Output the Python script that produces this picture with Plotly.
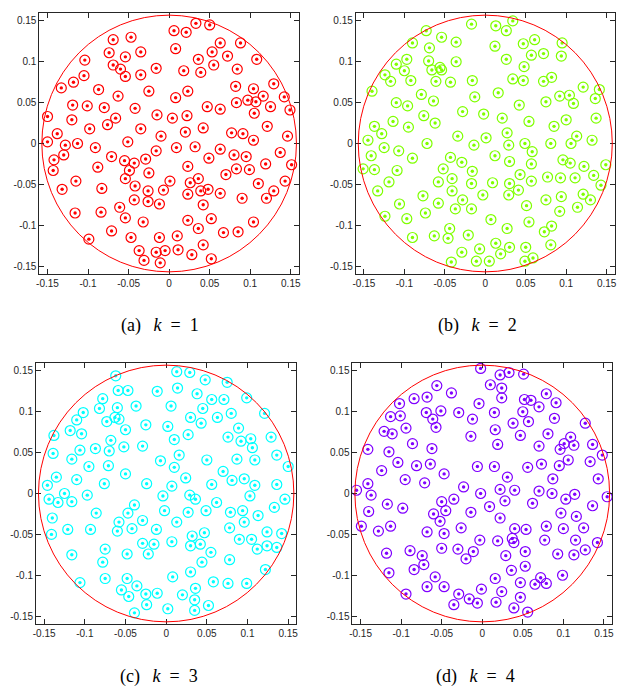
import plotly.graph_objects as go

# Radius of the red boundary disc (same for every panel)
R = 0.157

# Axis ticks
tick_vals = [-0.15, -0.1, -0.05, 0, 0.05, 0.1, 0.15]
tick_text = ["-0.15", "-0.1", "-0.05", "0", "0.05", "0.1", "0.15"]

# k = 1
k1_x = [0.033, 0.050, 0.006, 0.021, 0.063, 0.088, -0.069, -0.047, 0.008, -0.074,
        -0.035, 0.053, -0.054, 0.072, -0.104, 0.036, 0.108, -0.069, 0.055, -0.060,
        -0.016, 0.018, 0.084, 0.039, -0.054, -0.035, -0.105, -0.118, -0.133, 0.082,
        0.129, -0.087, -0.025, 0.023, 0.104, -0.063, 0.008, 0.116, 0.142, 0.097,
        0.107, 0.083, -0.119, -0.101, -0.080, 0.047, 0.125, -0.042, 0.063, 0.149,
        -0.150, 0.105, -0.015, 0.022, 0.004, -0.066, -0.120, -0.076, 0.121, -0.098,
        -0.035, 0.042, -0.138, 0.020, 0.077, 0.091, -0.010, 0.146, 0.104, -0.051,
        -0.150,
        -0.128, -0.113, -0.091, -0.016, 0.009, 0.032, 0.063, -0.130, -0.142, -0.071,
        -0.055, -0.043, -0.029, 0.080, 0.095, 0.049, 0.137, 0.119, 0.151, -0.143,
        -0.088, -0.049, -0.025, 0.023, 0.083, 0.099, 0.070, -0.054, 0.001, 0.036,
        -0.115, 0.026, 0.110, 0.143, -0.042, 0.048, -0.132, -0.083, -0.026, -0.007,
        0.039, 0.129, 0.023, 0.063, 0.120, 0.090, -0.043, -0.026, -0.012, 0.042,
        -0.061, -0.116, -0.084, -0.054, 0.052, -0.032, 0.023, 0.104, 0.036, -0.071,
        0.067, 0.085, -0.047, -0.012, 0.010, -0.099, 0.042, -0.037, -0.016, -0.005,
        0.011, 0.028, -0.031, 0.052, -0.011]
k1_y = [0.147, 0.145, 0.138, 0.136, 0.123, 0.123, 0.127, 0.130, 0.116, 0.111,
        0.112, 0.112, 0.106, 0.107, 0.102, 0.103, 0.103, 0.096, 0.096, 0.091,
        0.092, 0.089, 0.091, 0.087, 0.082, 0.084, 0.083, 0.075, 0.068, 0.070,
        0.073, 0.066, 0.064, 0.064, 0.067, 0.058, 0.056, 0.058, 0.057, 0.053,
        0.051, 0.050, 0.047, 0.046, 0.044, 0.045, 0.045, 0.043, 0.042, 0.041,
        0.033, 0.037, 0.035, 0.034, 0.031, 0.031, 0.029, 0.023, 0.021, 0.018,
        0.018, 0.019, 0.012, 0.014, 0.013, 0.012, 0.009, 0.009, 0.004, 0.002,
        0.002,
        -0.002, 0.000, -0.005, -0.009, -0.005, -0.004, -0.007, -0.014, -0.020, -0.016,
        -0.021, -0.024, -0.019, -0.014, -0.016, -0.018, -0.011, -0.025, -0.026, -0.033,
        -0.029, -0.033, -0.036, -0.028, -0.031, -0.032, -0.038, -0.043, -0.046, -0.043,
        -0.046, -0.048, -0.049, -0.046, -0.052, -0.056, -0.056, -0.055, -0.058, -0.057,
        -0.058, -0.058, -0.062, -0.061, -0.067, -0.067, -0.069, -0.071, -0.074, -0.075,
        -0.078, -0.085, -0.084, -0.091, -0.092, -0.096, -0.094, -0.096, -0.104, -0.107,
        -0.109, -0.108, -0.115, -0.115, -0.113, -0.117, -0.124, -0.131, -0.133, -0.131,
        -0.130, -0.136, -0.143, -0.141, -0.146]

# k = 2
k2_x = [-0.017, 0.013, 0.034, 0.026, -0.073, -0.090, -0.054, -0.036, 0.012, 0.047,
        0.061, 0.095, -0.069, 0.057, 0.072, 0.094, 0.026, -0.097, -0.070, -0.110,
        -0.036, -0.100, -0.066, -0.056, -0.054, 0.048, -0.124, -0.117, -0.092, -0.061,
        -0.043, -0.016, 0.034, 0.047, 0.072, 0.082, -0.140, 0.121, 0.141, -0.079,
        0.016, -0.013, 0.092, 0.104, 0.136, -0.110, -0.064, -0.096, 0.075, 0.109,
        0.042, -0.028, -0.002, -0.076, 0.021, 0.137, -0.114, -0.062, 0.054, 0.100,
        -0.137, -0.095, 0.085, -0.128, 0.027, 0.113, -0.034, 0.001, -0.145, 0.132,
        -0.125, -0.072, -0.014, 0.029, 0.049, 0.081, 0.106, -0.107, 0.058, -0.141,
        -0.090, -0.043, 0.012, -0.029, 0.030, 0.057, 0.096, 0.105, 0.122, 0.149,
        -0.151, -0.137, -0.109, -0.052, -0.016, 0.043, -0.041, 0.077, 0.093, 0.111,
        0.134, -0.119, -0.058, -0.017, 0.009, 0.030, 0.057, 0.143, -0.133, -0.041,
        0.041, -0.077, -0.003, 0.029, 0.121, 0.094, -0.028, 0.075, 0.130, -0.106,
        -0.058, 0.051, -0.037, -0.017, 0.114, -0.074, 0.092, -0.124, -0.097, 0.007,
        0.054, 0.082, -0.044, 0.027, 0.073, -0.063, -0.021, -0.046, -0.090, 0.013,
        0.081, -0.007, 0.030, 0.050, -0.029, 0.019, 0.059, -0.042, -0.011, 0.005,
        0.049]
k2_y = [0.146, 0.144, 0.150, 0.138, 0.138, 0.123, 0.130, 0.124, 0.119, 0.122,
        0.127, 0.123, 0.117, 0.108, 0.110, 0.107, 0.103, 0.103, 0.101, 0.097,
        0.100, 0.089, 0.090, 0.093, 0.090, 0.094, 0.084, 0.076, 0.077, 0.076,
        0.075, 0.077, 0.079, 0.077, 0.076, 0.081, 0.064, 0.069, 0.066, 0.060,
        0.062, 0.057, 0.058, 0.059, 0.055, 0.050, 0.052, 0.046, 0.051, 0.049,
        0.047, 0.039, 0.036, 0.034, 0.031, 0.031, 0.027, 0.025, 0.027, 0.029,
        0.021, 0.020, 0.021, 0.012, 0.013, 0.009, 0.009, 0.007, 0.004, 0.004,
        -0.005, 0.000, -0.002, -0.002, 0.000, 0.000, 0.000, -0.009, -0.010, -0.015,
        -0.018, -0.017, -0.015, -0.023, -0.022, -0.025, -0.020, -0.024, -0.028, -0.026,
        -0.031, -0.032, -0.033, -0.031, -0.034, -0.038, -0.043, -0.041, -0.042, -0.042,
        -0.039, -0.047, -0.047, -0.049, -0.048, -0.049, -0.046, -0.051, -0.058, -0.058,
        -0.057, -0.064, -0.063, -0.063, -0.062, -0.065, -0.069, -0.069, -0.069, -0.074,
        -0.073, -0.076, -0.080, -0.080, -0.078, -0.085, -0.083, -0.089, -0.092, -0.093,
        -0.096, -0.101, -0.104, -0.104, -0.108, -0.113, -0.112, -0.116, -0.115, -0.122,
        -0.124, -0.129, -0.127, -0.127, -0.133, -0.135, -0.140, -0.145, -0.144, -0.144,
        -0.144]

# k = 3
k3_x = [-0.062, 0.013, 0.029, 0.048, 0.075, -0.059, -0.047, -0.011, 0.014, 0.038,
        0.056, 0.071, 0.099, -0.078, -0.082, -0.060, -0.037, 0.006, 0.045, -0.102,
        0.080, 0.121, -0.110, -0.063, -0.058, -0.073, 0.030, 0.063, 0.043, -0.025,
        0.002, -0.118, -0.050, 0.089, -0.104, 0.027, -0.138, -0.068, 0.010, 0.076,
        0.092, 0.104, 0.129, 0.106, -0.087, -0.052, -0.029, -0.106, -0.070, -0.139,
        0.136, -0.116, -0.007, 0.016, 0.050, 0.087, 0.109, -0.095, -0.071, 0.010,
        0.150, -0.050, 0.070, -0.135, 0.024, -0.110, 0.081, 0.096, -0.076, -0.024,
        0.056, -0.146, 0.007, 0.109, 0.136,
        -0.144, -0.125, -0.133, -0.116, -0.097, -0.004, 0.029, 0.036, 0.062, 0.103,
        0.146, 0.133, -0.039, -0.086, -0.047, -0.002, 0.027, 0.049, 0.079, 0.094,
        0.113, -0.140, -0.029, -0.058, 0.013, 0.096, -0.093, -0.121, -0.060, -0.042,
        -0.012, 0.078, -0.141, 0.047, 0.032, 0.124, 0.142, 0.090, 0.105, -0.029,
        -0.015, 0.007, 0.030, 0.042, 0.124, 0.136, 0.112, -0.075, 0.055, -0.116,
        -0.048, -0.022, -0.078, 0.044, 0.078, 0.030, 0.122, 0.008, -0.075, -0.048,
        0.058, 0.076, 0.099, -0.106, -0.036, 0.036, -0.055, -0.046, -0.025, -0.011,
        0.020, 0.035, -0.024, 0.052, 0.002, 0.035, -0.039]
k3_y = [0.144, 0.149, 0.148, 0.139, 0.136, 0.126, 0.126, 0.125, 0.129, 0.122,
        0.115, 0.115, 0.117, 0.116, 0.104, 0.105, 0.107, 0.107, 0.104, 0.099,
        0.098, 0.098, 0.090, 0.093, 0.091, 0.088, 0.093, 0.093, 0.086, 0.084,
        0.082, 0.077, 0.078, 0.080, 0.073, 0.072, 0.071, 0.065, 0.066, 0.069,
        0.064, 0.067, 0.069, 0.056, 0.055, 0.057, 0.058, 0.053, 0.052, 0.049,
        0.047, 0.042, 0.040, 0.047, 0.041, 0.042, 0.041, 0.033, 0.034, 0.032,
        0.033, 0.024, 0.027, 0.020, 0.019, 0.017, 0.016, 0.018, 0.012, 0.012,
        0.011, 0.010, 0.009, 0.010, 0.011,
        -0.007, 0.000, -0.011, -0.010, -0.002, -0.003, -0.002, -0.007, -0.011, -0.003,
        -0.007, -0.017, -0.014, -0.024, -0.024, -0.021, -0.023, -0.021, -0.023, -0.021,
        -0.027, -0.030, -0.033, -0.035, -0.035, -0.035, -0.044, -0.044, -0.046, -0.043,
        -0.044, -0.042, -0.050, -0.048, -0.052, -0.047, -0.049, -0.056, -0.056, -0.061,
        -0.062, -0.059, -0.064, -0.062, -0.064, -0.066, -0.068, -0.068, -0.072, -0.075,
        -0.074, -0.074, -0.084, -0.084, -0.081, -0.096, -0.093, -0.102, -0.104, -0.104,
        -0.108, -0.110, -0.110, -0.109, -0.113, -0.116, -0.118, -0.126, -0.123, -0.122,
        -0.124, -0.130, -0.136, -0.137, -0.141, -0.143, -0.146]

# k = 4
k4_x = [-0.002, 0.022, 0.033, 0.051, 0.010, 0.024, 0.024, -0.056, -0.038, -0.068,
        -0.084, 0.052, 0.060, 0.079, 0.091, -0.102, -0.004, 0.070, -0.113, -0.101,
        -0.069, -0.051, -0.029, 0.015, 0.050, -0.061, -0.012, 0.089, 0.057, 0.038,
        0.127, -0.057, -0.094, 0.016, -0.121, -0.111, 0.081, -0.014, 0.047, 0.109,
        0.101, -0.086, 0.019, 0.070, 0.113, 0.136, -0.141, -0.062, 0.096, -0.115,
        0.148, 0.106, -0.104, 0.133, -0.081, -0.064, -0.006, 0.015, 0.056, 0.073,
        0.095, -0.124, -0.047, 0.031, -0.095, 0.087, 0.143, -0.071, -0.141, -0.023,
        0.022, 0.040, 0.070, -0.155,
        -0.137, -0.002, 0.086, 0.114, 0.154, -0.035, -0.050, 0.028, 0.103, -0.117,
        -0.098, 0.009, 0.062, 0.136, -0.140, -0.060, -0.045, -0.014, 0.097, 0.116,
        0.022, -0.052, -0.149, -0.113, 0.079, -0.026, -0.128, 0.040, 0.054, 0.100,
        0.125, -0.068, -0.047, -0.003, 0.019, 0.037, 0.039, 0.077, 0.115, 0.142,
        -0.050, -0.030, -0.011, -0.089, 0.053, 0.127, -0.118, -0.074, 0.029, 0.093,
        0.113, -0.020, -0.072, 0.053, -0.084, 0.036, -0.115, 0.099, -0.058, 0.016,
        0.072, 0.047, 0.065, 0.079, -0.068, -0.047, -0.001, 0.024, -0.094, -0.029,
        0.047, -0.016, -0.006, 0.017, -0.035, 0.039, 0.056]
k4_y = [0.153, 0.145, 0.148, 0.146, 0.133, 0.129, 0.117, 0.132, 0.123, 0.118,
        0.116, 0.115, 0.114, 0.122, 0.111, 0.110, 0.110, 0.106, 0.094, 0.095,
        0.099, 0.101, 0.099, 0.099, 0.100, 0.091, 0.091, 0.092, 0.088, 0.086,
        0.086, 0.081, 0.080, 0.078, 0.076, 0.073, 0.073, 0.070, 0.071, 0.069,
        0.061, 0.061, 0.060, 0.058, 0.059, 0.060, 0.054, 0.055, 0.054, 0.051,
        0.047, 0.041, 0.038, 0.039, 0.034, 0.036, 0.033, 0.033, 0.032, 0.036,
        0.034, 0.028, 0.024, 0.020, 0.017, 0.018, 0.018, 0.013, 0.012, 0.008,
        0.005, 0.004, 0.003, 0.004,
        -0.002, 0.000, 0.000, -0.001, -0.004, -0.007, -0.010, -0.009, -0.007, -0.013,
        -0.018, -0.016, -0.012, -0.015, -0.022, -0.025, -0.021, -0.023, -0.024, -0.028,
        -0.030, -0.034, -0.040, -0.040, -0.040, -0.042, -0.046, -0.043, -0.044, -0.043,
        -0.042, -0.047, -0.049, -0.057, -0.058, -0.055, -0.060, -0.057, -0.057, -0.060,
        -0.067, -0.068, -0.071, -0.070, -0.071, -0.069, -0.073, -0.076, -0.076, -0.074,
        -0.075, -0.080, -0.087, -0.089, -0.093, -0.094, -0.097, -0.100, -0.102, -0.104,
        -0.103, -0.109, -0.111, -0.110, -0.114, -0.114, -0.117, -0.120, -0.123, -0.123,
        -0.127, -0.129, -0.134, -0.133, -0.136, -0.140, -0.145]

panels = [
    ("a", 1, k1_x, k1_y, "#FF0000"),
    ("b", 2, k2_x, k2_y, "#7FFF00"),
    ("c", 3, k3_x, k3_y, "#00FFFF"),
    ("d", 4, k4_x, k4_y, "#8000FF"),
]

W, H = 619, 688
# Plot-area boxes in pixels: (left, right, top, bottom)
boxes = [
    (36.7, 298.3, 12.7, 274.3),
    (355.7, 616.7, 12.7, 274.3),
    (33.3, 295.7, 362.7, 624.3),
    (352.3, 614.0, 362.7, 624.3),
]
caption_pos = [(158, 326), (478, 326), (157, 676), (476, 676)]

AX_COLOR = "#262626"
fig = go.Figure()
shapes = []
annotations = []
layout_axes = {}

for i, (letter, k, xs, ys, color) in enumerate(panels):
    assert len(xs) == len(ys)
    n = "" if i == 0 else str(i + 1)
    xa, ya = "x" + n, "y" + n
    # open rings
    fig.add_trace(go.Scatter(
        x=xs, y=ys, mode="markers", xaxis=xa, yaxis=ya, showlegend=False,
        hoverinfo="skip",
        marker=dict(symbol="circle-open", size=10, color=color,
                    line=dict(width=1.2, color=color)),
    ))
    # centre dots
    fig.add_trace(go.Scatter(
        x=xs, y=ys, mode="markers", xaxis=xa, yaxis=ya, showlegend=False,
        marker=dict(symbol="circle", size=3.4, color=color, line=dict(width=0)),
    ))
    shapes.append(dict(
        type="circle", xref=xa, yref=ya, x0=-R, x1=R, y0=-R, y1=R,
        line=dict(color="#FF0000", width=1),
    ))

    left, right, top, bottom = boxes[i]
    axis_common = dict(
        range=[-0.16, 0.16], tickvals=tick_vals, ticktext=tick_text,
        ticks="inside", ticklen=5, tickwidth=1, tickcolor=AX_COLOR,
        showline=True, linecolor=AX_COLOR, linewidth=1, mirror="ticks",
        showgrid=False, zeroline=False,
        tickfont=dict(family="Liberation Sans, Arial, sans-serif", size=10,
                      color=AX_COLOR),
    )
    layout_axes["xaxis" + n] = dict(
        axis_common, domain=[left / W, right / W], anchor=ya)
    layout_axes["yaxis" + n] = dict(
        axis_common, domain=[1 - bottom / H, 1 - top / H], anchor=xa)

    cx, cy = caption_pos[i]
    annotations.append(dict(
        text=f"({letter})\u2002\u2009<i>k</i>\u2002=\u2002{k}",
        xref="paper", yref="paper", x=cx / W, y=1 - cy / H,
        xanchor="center", yanchor="middle", showarrow=False,
        font=dict(family="Liberation Serif, Times New Roman, serif",
                  size=18, color="black"),
    ))

fig.update_layout(
    width=W, height=H,
    margin=dict(l=0, r=0, t=0, b=0),
    paper_bgcolor="white", plot_bgcolor="white",
    shapes=shapes, annotations=annotations,
    **layout_axes,
)

fig.write_html("out.html")
